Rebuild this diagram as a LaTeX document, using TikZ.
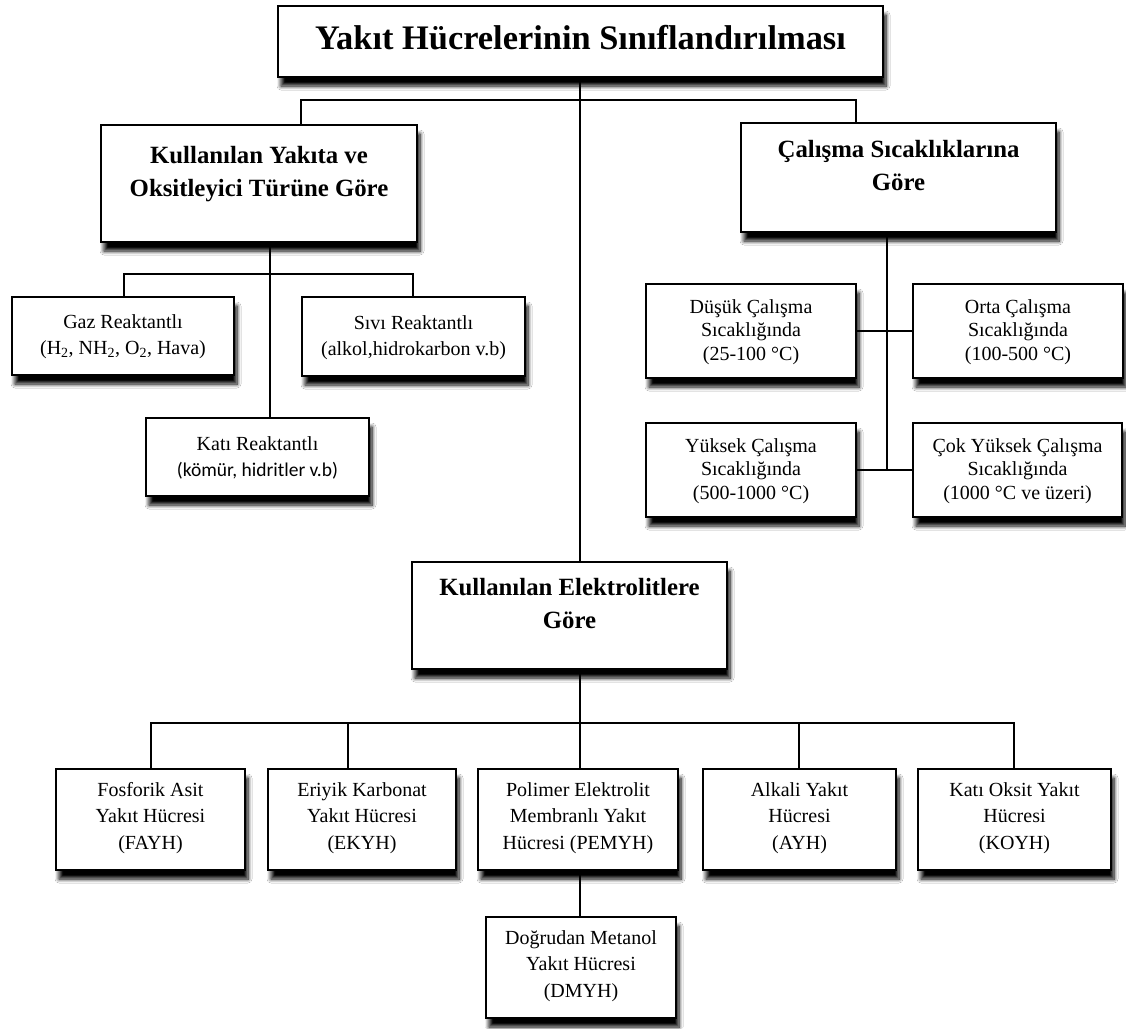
\documentclass[tikz,border=0pt]{standalone}
\usepackage{fontspec}
\setmainfont{Liberation Serif}
\newfontfamily\calib{Carlito}
\usetikzlibrary{shadows.blur}

\tikzset{
  box/.style={draw=black, line width=1.4pt, fill=white, inner sep=0pt,
    blur shadow={shadow xshift=3pt, shadow yshift=-9pt, shadow blur radius=4pt,
      shadow blur steps=8, shadow opacity=100}},
  conn/.style={line width=1.8pt},
  titletext/.style={font=\fontsize{34.4}{40}\selectfont\bfseries, inner sep=0pt},
  headtext/.style={font=\fontsize{24.8}{33}\selectfont\bfseries, align=center, inner sep=0pt, anchor=north},
  leafL/.style={font=\fontsize{20}{26}\selectfont, align=center, inner sep=0pt},
  leafR/.style={font=\fontsize{20}{23.5}\selectfont, align=center, inner sep=0pt},
  leafB/.style={font=\fontsize{20}{26.5}\selectfont, align=center, inner sep=0pt},
}

\begin{document}
\begin{tikzpicture}[x=1pt,y=-1pt]
\useasboundingbox[fill=white] (0,0) rectangle (1126,1028);

% title
\node[box, minimum width=605pt, minimum height=71pt] (title) at (580.5,41.5) {};
\node[titletext, anchor=base] (titlet) at (580.5,49) {Yakıt Hücrelerinin Sınıflandırılması};

% left heading
\node[box, minimum width=316pt, minimum height=117pt] (L) at (259,183.5) {};
\node[headtext] (Lt) at (259,146) {Kullanılan Yakıta ve\\Oksitleyici Türüne Göre};

% right heading
\node[box, minimum width=315pt, minimum height=109pt] (R) at (898.5,177.5) {};
\node[headtext] (Rt) at (898.5,140) {Çalışma Sıcaklıklarına\\Göre};

% electrolyte heading
\node[box, minimum width=315pt, minimum height=107pt] (E) at (569.5,615.5) {};
\node[headtext] (Et) at (569.5,578) {Kullanılan Elektrolitlere\\Göre};

% left leaves
\node[box, minimum width=222pt, minimum height=78pt] (G) at (123,336) {};
\node[leafL] (Gt) at (123,337) {Gaz Reaktantlı\\(H\textsubscript{2}, NH\textsubscript{2}, O\textsubscript{2}, Hava)};
\node[box, minimum width=223pt, minimum height=79pt] (S) at (413.5,336.5) {};
\node[leafL] (St) at (413.5,337.5) {Sıvı Reaktantlı\\(alkol,hidrokarbon v.b)};
\node[box, minimum width=223pt, minimum height=78pt] (K) at (257.5,457) {};
\node[leafL] (Kt) at (257.5,458) {Katı Reaktantlı\\{\calib\fontsize{19.5}{26}\selectfont (kömür, hidritler v.b)}};

% right leaves
\node[box, minimum width=210pt, minimum height=94pt] (D) at (751,331) {};
\node[leafR] (Dt) at (751,332) {Düşük Çalışma\\Sıcaklığında\\(25-100 °C)};
\node[box, minimum width=210pt, minimum height=94pt] (O) at (1018,331) {};
\node[leafR] (Ot) at (1018,332) {Orta Çalışma\\Sıcaklığında\\(100-500 °C)};
\node[box, minimum width=210pt, minimum height=94pt] (Y) at (751,470) {};
\node[leafR] (Yt) at (751,471) {Yüksek Çalışma\\Sıcaklığında\\(500-1000 °C)};
\node[box, minimum width=209pt, minimum height=94pt] (C) at (1017.5,470) {};
\node[leafR] (Ct) at (1017.5,471) {Çok Yüksek Çalışma\\Sıcaklığında\\(1000 °C ve üzeri)};

% bottom leaves
\node[box, minimum width=189pt, minimum height=101pt] (F) at (150.5,819.5) {};
\node[leafB] (Ft) at (150.5,818) {Fosforik Asit\\Yakıt Hücresi\\(FAYH)};
\node[box, minimum width=188pt, minimum height=101pt] (EK) at (362,819.5) {};
\node[leafB] (EKt) at (362,818) {Eriyik Karbonat\\Yakıt Hücresi\\(EKYH)};
\node[box, minimum width=200pt, minimum height=101pt] (P) at (578,819.5) {};
\node[leafB] (Pt) at (578,818) {Polimer Elektrolit\\Membranlı Yakıt\\Hücresi (PEMYH)};
\node[box, minimum width=193pt, minimum height=101pt] (A) at (799.5,819.5) {};
\node[leafB] (At) at (799.5,818) {Alkali Yakıt\\Hücresi\\(AYH)};
\node[box, minimum width=193pt, minimum height=101pt] (KO) at (1014.5,819.5) {};
\node[leafB] (KOt) at (1014.5,818) {Katı Oksit Yakıt\\Hücresi\\(KOYH)};
\node[box, minimum width=190pt, minimum height=101pt] (DM) at (581,967.5) {};
\node[leafB] (DMt) at (581,966) {Doğrudan Metanol\\Yakıt Hücresi\\(DMYH)};

% connectors
\coordinate (tc) at (580,100);
\coordinate (tl) at (301,100);
\coordinate (tr) at (856,100);
\draw[conn] (title.south -| tc) -- (E.north -| tc);
\draw[conn] (L.north -| tl) -- (tl) -- (tr) -- (R.north -| tr);

\coordinate (lj) at (270,274);
\coordinate (lgl) at (124,274);
\coordinate (lsr) at (413,274);
\draw[conn] (L.south -| lj) -- (K.north -| lj);
\draw[conn] (G.north -| lgl) -- (lgl) -- (lsr) -- (S.north -| lsr);

\coordinate (rj1) at (887,331);
\coordinate (rj2) at (887,470);
\draw[conn] (R.south -| rj1) -- (rj2);
\draw[conn] (D.east) -- (O.west);
\draw[conn] (Y.east) -- (C.west);

\coordinate (bc) at (580,723);
\coordinate (bb1) at (151,723);
\coordinate (bb2) at (348,723);
\coordinate (bb4) at (799,723);
\coordinate (bb5) at (1014,723);
\draw[conn] (E.south -| bc) -- (P.north -| bc);
\draw[conn] (F.north -| bb1) -- (bb1) -- (bb5) -- (KO.north -| bb5);
\draw[conn] (bb2) -- (EK.north -| bb2);
\draw[conn] (bb4) -- (A.north -| bb4);
\draw[conn] (P.south -| bc) -- (DM.north -| bc);
\end{tikzpicture}
\end{document}
